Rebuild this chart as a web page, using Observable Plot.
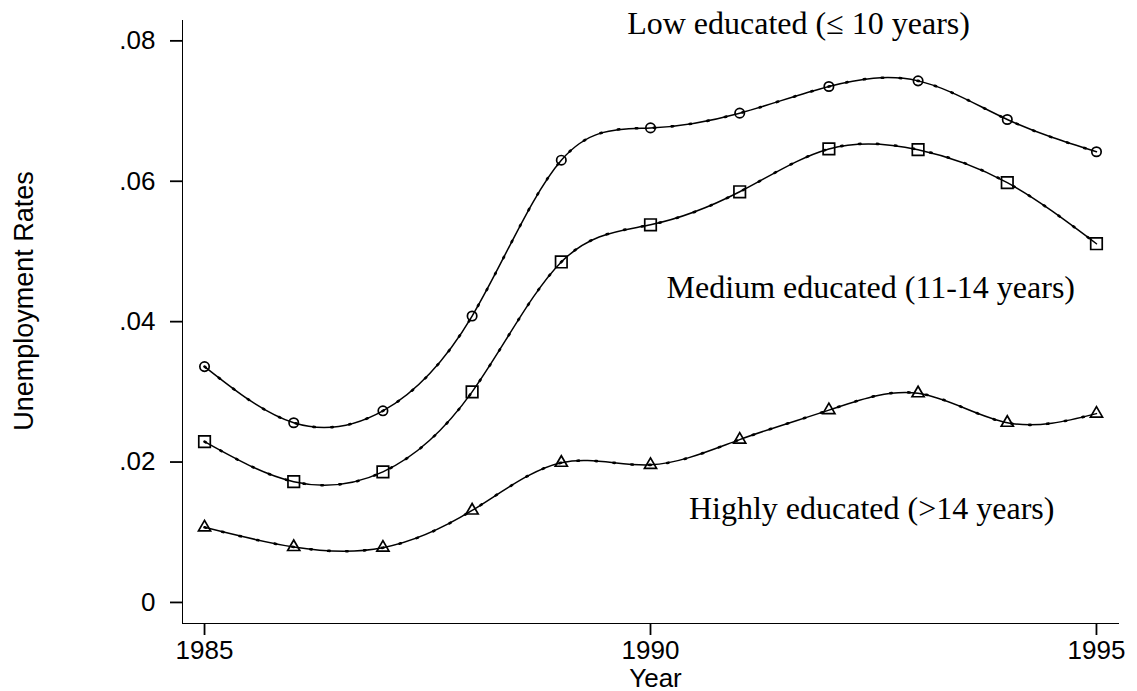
<!DOCTYPE html>
<html><head><meta charset="utf-8">
<script src="https://cdn.jsdelivr.net/npm/d3@7"></script>
<script src="https://cdn.jsdelivr.net/npm/@observablehq/plot@0.6"></script>
<style>
html,body{margin:0;padding:0;background:#fff;}
#chart svg [aria-label*="axis"] path, #chart svg [aria-label*="axis"] line {stroke-width:1.8px;}
</style>
</head><body><div id="chart"></div>
<script>
// ---- data ----
const years = [1985, 1986, 1987, 1988, 1989, 1990, 1991, 1992, 1993, 1994, 1995];
const lowRates    = [0.0336, 0.0256, 0.0273, 0.0408, 0.0630, 0.0676, 0.0697, 0.0735, 0.0743, 0.0688, 0.0642];
const mediumRates = [0.0229, 0.0172, 0.0186, 0.0300, 0.0485, 0.0538, 0.0585, 0.0646, 0.0645, 0.0598, 0.0511];
const highRates   = [0.0107, 0.0079, 0.0078, 0.0131, 0.0199, 0.0196, 0.0232, 0.0274, 0.0298, 0.0256, 0.0269];
const seriesNames = ["Low", "Medium", "High"];
const seriesLabels = ["Low educated (\u2264 10 years)", "Medium educated (11-14 years)", "Highly educated (>14 years)"];
const labelYears = [1991.66, 1992.47, 1992.48];
const labelRates = [0.0810, 0.0434, 0.0119];
const xTicks = [1985, 1990, 1995];
const yTicks = [0, 0.02, 0.04, 0.06, 0.08];
const xTitle = "Year";
const yTitle = "Unemployment Rates";

// ---- build table ----
const seriesValues = [lowRates, mediumRates, highRates];
const rows = [];
seriesNames.forEach((s, i) => years.forEach((yr, j) => rows.push({series: s, year: yr, rate: seriesValues[i][j]})));
const labelRows = seriesLabels.map((t, i) => ({label: t, x: labelYears[i], y: labelRates[i]}));

const symbols = {Low: {symbol: "circle", r: 4.7}, Medium: {symbol: "square", r: 6.5}, High: {symbol: "triangle", r: 4.5}};
const yFmt = d => d === 0 ? "0" : d.toFixed(2).replace(/^0/, "");

const chart = Plot.plot({
  width: 1137, height: 691,
  marginLeft: 182, marginRight: 19, marginTop: 20, marginBottom: 68,
  style: {fontFamily: "'Liberation Sans', Arial, sans-serif", fontSize: "26px", background: "#fff", color: "#000"},
  x: {domain: [1984.753, 1995.247], ticks: xTicks, tickFormat: d => String(d), tickSize: 12, tickPadding: 5, line: true, label: null},
  y: {domain: [-0.003, 0.0829], ticks: yTicks, tickFormat: yFmt, tickSize: 12, tickPadding: 15, line: true, label: null},
  marks: [
    Plot.line(rows, {x: "year", y: "rate", z: "series", curve: "natural", stroke: "#000", strokeWidth: 1.5}),
    Plot.line(rows, {x: "year", y: "rate", z: "series", curve: "natural", stroke: "#000", strokeWidth: 2.6, strokeDasharray: "1.5,16.5"}),
    ...seriesNames.map(s => Plot.dot(rows.filter(d => d.series === s), {
      x: "year", y: "rate", symbol: symbols[s].symbol, r: symbols[s].r,
      stroke: "#000", strokeWidth: 1.7, fill: "none"
    })),
    Plot.text(labelRows, {x: "x", y: "y", text: "label", fontFamily: "'Liberation Serif', 'Times New Roman', serif",
      fontSize: 32, lineAnchor: "bottom", textAnchor: "middle", fill: "#000"}),
    Plot.text([xTitle], {text: d => d, frameAnchor: "bottom", textAnchor: "middle", dx: 5, dy: 63, lineAnchor: "bottom", fontSize: 26, fill: "#000"}),
    Plot.text([yTitle], {text: d => d, frameAnchor: "left", textAnchor: "middle", rotate: -90, dx: -150, dy: -21, lineAnchor: "bottom", fontSize: 27, fill: "#000"})
  ]
});
document.getElementById("chart").appendChild(chart);
</script>
</body></html>
